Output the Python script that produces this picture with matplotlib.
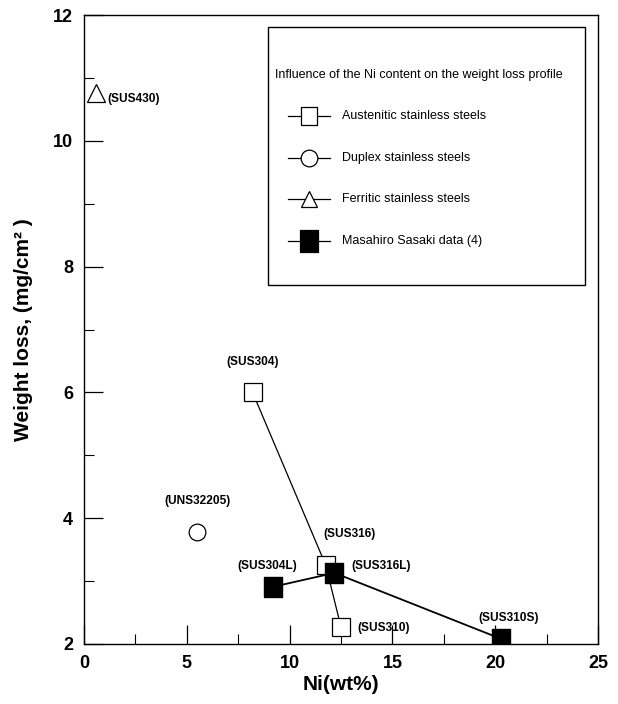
import matplotlib
matplotlib.use("Agg")
import matplotlib.pyplot as plt
from matplotlib.lines import Line2D
from matplotlib.patches import Rectangle
from matplotlib.ticker import MultipleLocator

# ---- data ----
aus_names = ["(SUS304)", "(SUS316)", "(SUS310)"]
aus_ni = [8.2, 11.75, 12.5]
aus_wl = [6.0, 3.26, 2.27]

dup_names = ["(UNS32205)"]
dup_ni = [5.5]
dup_wl = [3.78]

fer_names = ["(SUS430)"]
fer_ni = [0.58]
fer_wl = [10.76]

sas_names = ["(SUS304L)", "(SUS316L)", "(SUS310S)"]
sas_ni = [9.2, 12.18, 20.3]
sas_wl = [2.91, 3.13, 2.08]

legend_labels = ["Austenitic stainless steels", "Duplex stainless steels",
                 "Ferritic stainless steels", "Masahiro Sasaki data (4)"]
legend_title = "Influence of the Ni content on the weight loss profile"
xticks = [0, 5, 10, 15, 20, 25]
yticks = [2, 4, 6, 8, 10, 12]

plt.rcParams["font.family"] = ["Liberation Sans", "DejaVu Sans"]

W, H = 618, 704
fig = plt.figure(figsize=(W / 100, H / 100), dpi=100)
AX_L, AX_R, AX_T, AX_B = 84, 598, 15, 644
ax = fig.add_axes([AX_L / W, 1 - AX_B / H, (AX_R - AX_L) / W, (AX_B - AX_T) / H])


def axc(px, py):
    return ((px - AX_L) / (AX_R - AX_L), (AX_B - py) / (AX_B - AX_T))


tall_rect = [(-0.85, -1), (0.85, -1), (0.85, 1), (-0.85, 1), (-0.85, -1)]
ax.plot(aus_ni, aus_wl, color="black", lw=0.9, marker="s", ms=12.5,
        mfc="white", mec="black", mew=0.9, zorder=3)
ax.plot(sas_ni, sas_wl, color="black", lw=1.3, marker=tall_rect, ms=14.5,
        mfc="black", mec="black", zorder=4)
ax.plot(dup_ni, dup_wl, ls="none", marker="o", ms=12, mfc="white",
        mec="black", mew=0.9, zorder=3)
ax.plot(fer_ni, fer_wl, ls="none", marker="^", ms=13, mfc="white",
        mec="black", mew=0.9, zorder=3)

# label offsets (points)
offs = {
    "(SUS304)": (0, 22, "center"),
    "(SUS316)": (17, 22, "center"),
    "(SUS310)": (12, -1, "left"),
    "(UNS32205)": (0, 22, "center"),
    "(SUS430)": (8, -4, "left"),
    "(SUS304L)": (-4, 15, "center"),
    "(SUS316L)": (12, 5, "left"),
    "(SUS310S)": (5, 15, "center"),
}
for names, xs, ys in [(aus_names, aus_ni, aus_wl), (dup_names, dup_ni, dup_wl),
                      (fer_names, fer_ni, fer_wl), (sas_names, sas_ni, sas_wl)]:
    for n, x, y in zip(names, xs, ys):
        dx, dy, ha = offs[n]
        ax.annotate(n, (x, y), xytext=(dx, dy), textcoords="offset points",
                    ha=ha, va="center", fontsize=8.6, fontweight="bold")

ax.set_xlim(0, 25)
ax.set_ylim(2, 12)
ax.set_xticks(xticks)
ax.set_yticks(yticks)
ax.xaxis.set_minor_locator(MultipleLocator(2.5))
ax.yaxis.set_minor_locator(MultipleLocator(1))
ax.tick_params(which="major", direction="in", length=14, width=0.9,
               labelsize=13, pad=8)
ax.tick_params(which="minor", direction="in", length=7, width=0.8)
for lab in ax.get_xticklabels() + ax.get_yticklabels():
    lab.set_fontweight("bold")
for s in ax.spines.values():
    s.set_linewidth(1.0)

ax.set_xlabel("Ni(wt%)", fontsize=15, fontweight="bold", labelpad=2)
ax.set_ylabel("Weight loss, (mg/cm\u00b2 )", fontsize=15, fontweight="bold",
              labelpad=14)

# ---- legend box drawn in axes coordinates ----
x0, y0 = axc(268, 285)
x1, y1 = axc(585, 27)
ax.add_patch(Rectangle((x0, y0), x1 - x0, y1 - y0, transform=ax.transAxes,
                       facecolor="white", edgecolor="black", lw=1.0, zorder=6))
tx, ty = axc(275, 75)
ax.text(tx, ty, legend_title, transform=ax.transAxes, ha="left", va="center",
        fontsize=9, zorder=7)
styles = [
    dict(marker=tall_rect, ms=13, mfc="white", mec="black", mew=0.9),
    dict(marker="o", ms=12, mfc="white", mec="black", mew=0.9),
    dict(marker="^", ms=11, mfc="white", mec="black", mew=0.9),
    dict(marker=tall_rect, ms=16, mfc="black", mec="black", mew=0.9),
]
entry_y = [116, 158, 199, 241]
for lab, st, py in zip(legend_labels, styles, entry_y):
    hx0, hy = axc(288, py)
    hx1, _ = axc(330, py)
    hm, _ = axc(309, py)
    ax.add_line(Line2D([hx0, hx1], [hy, hy], color="black", lw=0.9,
                       transform=ax.transAxes, zorder=7))
    ax.add_line(Line2D([hm], [hy], ls="none", transform=ax.transAxes,
                       zorder=8, **st))
    lx, _ = axc(342, py)
    ax.text(lx, hy, lab, transform=ax.transAxes, ha="left", va="center",
            fontsize=9, zorder=7)

fig.savefig("out.png", dpi=100)
